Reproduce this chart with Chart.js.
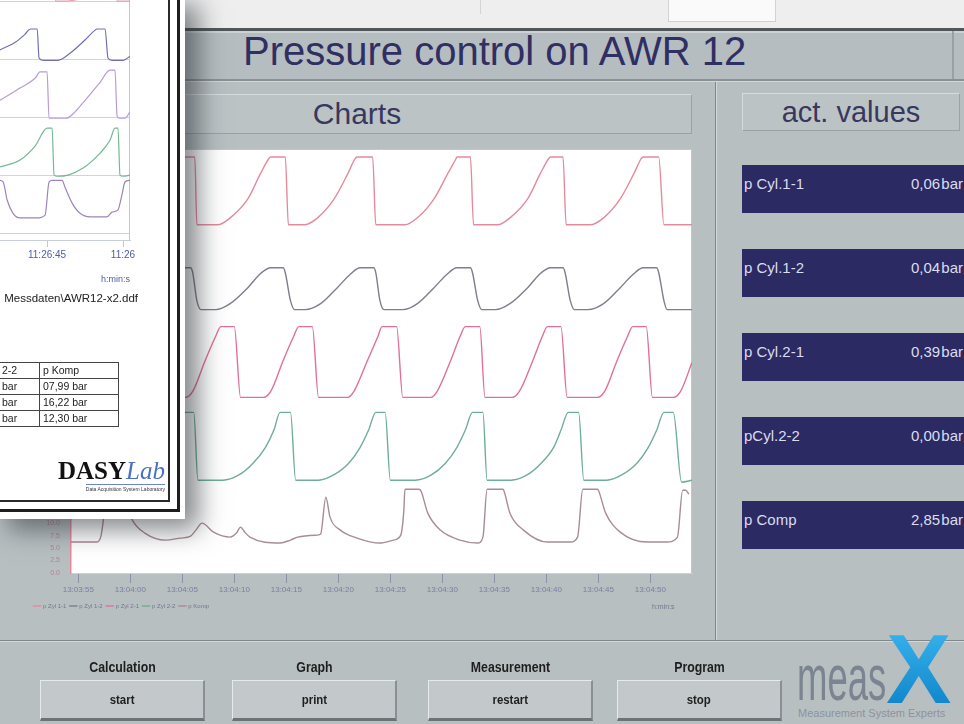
<!DOCTYPE html>
<html lang="en">
<head>
<meta charset="utf-8">
<title>Pressure control on AWR 12</title>
<script src="https://cdn.jsdelivr.net/npm/chart.js@4.4.1/dist/chart.umd.min.js"></script>
<style>
html, body { margin: 0; padding: 0; }
body {
    width: 964px; height: 724px; overflow: hidden; position: relative;
    background: #b8bfc1;
    font-family: 'Liberation Sans', Arial, sans-serif;
}
.abs { position: absolute; }

/* window chrome */
#topStrip { left: 0; top: 0; width: 964px; height: 28px; background: #eeeeee; }
#topStrip .tline { position: absolute; left: 480px; top: 0; width: 1px; height: 14px; background: #d4d4d4; }
#topStrip .tbox { position: absolute; left: 668px; top: -1px; width: 106px; height: 21px; border: 1px solid #d2d2d2; background: #fafafa; }
#topLine { left: 0; top: 28px; width: 964px; height: 3px; background: #50565a; }
#titleBand { left: 0; top: 31px; width: 964px; height: 48px; background: #b6bdc0; border-top: 2px solid #ccd1d3; box-sizing: border-box; }
#titleSep { left: 952px; top: 31px; width: 2px; height: 48px; background: #9aa0a3; }
#title { left: 243px; top: 31px; font-size: 40px; line-height: 40px; color: #2f2f63; white-space: nowrap; }
#bandLine { left: 0; top: 79px; width: 964px; height: 2px; background: #8a9194; }
#bandLine2 { left: 0; top: 81px; width: 964px; height: 1px; background: #d2d7d9; }

.header {
    background: #bcc3c5; border: 1px solid;
    border-color: #d8dcde #9ba1a4 #9ba1a4 #d8dcde;
    box-sizing: border-box; color: #37375f; text-align: center;
}
#chartsHeader { left: 22px; top: 94px; width: 670px; height: 40px; font-size: 30px; line-height: 38px; }
#valuesHeader { left: 742px; top: 93px; width: 218px; height: 38px; font-size: 29px; line-height: 36px; }

#vDivider { left: 715px; top: 82px; width: 1px; height: 558px; background: #80878a; }
#vDivider2 { left: 716px; top: 82px; width: 1px; height: 558px; background: #d3d8da; }
#hDivider { left: 0; top: 640px; width: 964px; height: 1px; background: #80878a; }
#hDivider2 { left: 0; top: 641px; width: 964px; height: 1px; background: #d3d8da; }

/* actual values */
#actValues { left: 742px; top: 165px; width: 222px; }
.act { height: 48px; margin-bottom: 36px; background: #2b2a63; color: #dcdcf0; font-size: 15px; position: relative; }
.act .name { position: absolute; left: 2px; top: 10px; white-space: nowrap; }
.act .val { position: absolute; right: 1px; top: 10px; word-spacing: -3px; white-space: nowrap; }

/* buttons */
.btnLabel {
    top: 658px; width: 165px; text-align: center;
    font: bold 14px 'Liberation Sans', Arial, sans-serif; line-height: 18px; color: #1e1e1e;
    transform: scaleX(0.88);
}
.btn {
    top: 680px; height: 41px; width: 165px; box-sizing: border-box;
    background: #c3c9cb; border-style: solid; border-width: 1px 2px 3px 1px;
    border-color: #e6eaec #899093 #6c7275 #e6eaec;
    text-align: center;
    font: bold 13px 'Liberation Sans', Arial, sans-serif; line-height: 37px; color: #1e1e1e;
}
.btn span { display: inline-block; transform: scaleX(0.88); }

/* logo */
#measText { left: 797px; top: 646px; font: 64px/64px 'Liberation Sans', sans-serif; color: #7b8591; transform: scaleX(0.57); transform-origin: left top; white-space: nowrap; }
#measX { left: 886px; top: 620px; font: bold 98px/98px 'Liberation Sans', Arial, sans-serif; color: #1f9ee0;
    background: linear-gradient(180deg, #3cb8f0, #0b7fc6); -webkit-background-clip: text; background-clip: text; -webkit-text-fill-color: transparent; }
#measTag { left: 798px; top: 707px; font-size: 11px; color: #8a93a0; white-space: nowrap; }

#mainChart { left: 30px; top: 141px; z-index: 5; }
#mainUnit { left: 652px; top: 603px; font-size: 7px; color: #6f7892; z-index: 6; }

/* printout laid over the screen */
#paper { left: 0; top: 0; width: 185px; height: 519px; background: #fff; z-index: 10; overflow: hidden;
    box-shadow: 11px 8px 24px 3px rgba(35, 40, 45, 0.55); }
#miniChart { left: 0; top: 0; }
#ddfPath { right: 47px; top: 292px; font-size: 11.5px; color: #222; white-space: nowrap; }
#resultTable { left: -2px; top: 362px; border-collapse: collapse; font-size: 10.5px; color: #222; }
#resultTable td { border: 1px solid #444; height: 15px; padding: 0 3px; line-height: 15px; white-space: nowrap; }
#resultTable td:first-child { width: 34px; }
#resultTable td:last-child { width: 72px; }
#dasy { right: 20px; top: 458px; font: bold 25px/25px 'Liberation Serif', 'Times New Roman', serif; color: #111; white-space: nowrap; }
#dasy .lab { font-weight: normal; font-style: italic; color: #4a70c8; }
#dasyTag { right: 20px; top: 484px; font-size: 5px; color: #334; border-top: 1px solid #6b86c8; white-space: nowrap; padding-top: 1px; }
#frameInner { left: -2px; top: -2px; width: 172px; height: 504px; border-right: 2px solid #2a2a2a; border-bottom: 2px solid #2a2a2a; box-sizing: border-box; }
#frameOuter { left: -3px; top: -3px; width: 183px; height: 515px; border-right: 3px solid #1e1e1e; border-bottom: 3px solid #1e1e1e; box-sizing: border-box; }
</style>
</head>
<body>

<div id="topStrip" class="abs"><div class="tline"></div><div class="tbox"></div></div>
<div id="topLine" class="abs"></div>
<div id="titleBand" class="abs"></div>
<div id="titleSep" class="abs"></div>
<div id="title" class="abs">Pressure control on AWR 12</div>
<div id="bandLine" class="abs"></div>
<div id="bandLine2" class="abs"></div>

<div id="chartsHeader" class="abs header">Charts</div>
<div id="valuesHeader" class="abs header">act. values</div>
<div id="vDivider" class="abs"></div>
<div id="vDivider2" class="abs"></div>
<div id="hDivider" class="abs"></div>
<div id="hDivider2" class="abs"></div>

<div id="actValues" class="abs"></div>

<div class="abs btnLabel" style="left:40px">Calculation</div>
<div class="abs btn" style="left:40px"><span>start</span></div>
<div class="abs btnLabel" style="left:232px">Graph</div>
<div class="abs btn" style="left:232px"><span>print</span></div>
<div class="abs btnLabel" style="left:428px">Measurement</div>
<div class="abs btn" style="left:428px"><span>restart</span></div>
<div class="abs btnLabel" style="left:617px">Program</div>
<div class="abs btn" style="left:617px"><span>stop</span></div>

<div id="measText" class="abs">meas</div>
<div id="measX" class="abs">X</div>
<div id="measTag" class="abs">Measurement System Experts</div>

<canvas id="mainChart" class="abs" width="670" height="474"></canvas>
<div id="mainUnit" class="abs">h:min:s</div>

<div id="paper" class="abs">
    <canvas id="miniChart" class="abs" width="150" height="285"></canvas>
    <div id="ddfPath" class="abs">Messdaten\AWR12-x2.ddf</div>
    <table id="resultTable" class="abs"></table>
    <div id="dasy" class="abs">DASY<span class="lab">Lab</span></div>
    <div id="dasyTag" class="abs">Data Acquisition System Laboratory</div>
    <div id="frameInner" class="abs"></div>
    <div id="frameOuter" class="abs"></div>
</div>

<script>
// Main chart: x in seconds after 13:03:55, each channel drawn in its own band of one axis
const timeLabels = ['13:03:55', '13:04:00', '13:04:05', '13:04:10', '13:04:15', '13:04:20',
    '13:04:25', '13:04:30', '13:04:35', '13:04:40', '13:04:45', '13:04:50'];
const seriesNames = ['p Zyl 1-1', 'p Zyl 1-2', 'p Zyl 2-1', 'p Zyl 2-2', 'p Komp'];

const pZyl11 = [[-0.7, 75.6], [0, 79.6], [0.6, 83.0], [0.8, 83.4], [2.2, 83.4], [2.4, 69.8],
    [4.6, 69.8], [5.9, 71.2], [7.5, 75.0], [8.8, 80.0], [9.5, 83.0], [9.7, 83.4], [11.2, 83.4], [11.4, 69.8],
    [13.4, 69.8], [14.6, 71.2], [16.3, 75.0], [17.5, 80.0], [18.3, 83.0], [18.5, 83.4], [19.9, 83.4], [20.2, 69.8],
    [21.7, 69.8], [23.0, 71.2], [24.6, 75.0], [25.9, 80.0], [26.6, 83.0], [26.8, 83.4], [28.3, 83.4], [28.6, 69.8],
    [31.4, 69.8], [32.6, 71.2], [34.2, 75.0], [35.5, 80.0], [36.3, 83.0], [36.4, 83.4], [37.7, 83.4], [38.0, 69.8],
    [40.3, 69.8], [41.5, 71.2], [43.2, 75.0], [44.4, 80.0], [45.2, 83.0], [45.4, 83.4], [46.6, 83.4], [46.9, 69.8],
    [49.2, 69.8], [50.5, 71.2], [52.1, 75.0], [53.4, 80.0], [54.1, 83.0], [54.3, 83.4], [55.8, 83.4], [56.3, 69.8],
    [59.0, 69.8]];

const pZyl12 = [[-0.7, 59.4], [-0.4, 60.0], [0.6, 61.2], [1.8, 61.2], [2.0, 60.2], [2.5, 54.6], [2.9, 52.8],
    [4.2, 52.8], [5.7, 54.0], [7.3, 57.2], [8.6, 60.0], [9.5, 61.2], [10.8, 61.2], [11.0, 60.2], [11.4, 54.6], [11.8, 52.8],
    [13.2, 52.8], [14.6, 54.0], [16.3, 57.2], [17.5, 60.0], [18.5, 61.2], [19.7, 61.2], [19.9, 60.2], [20.4, 54.6], [20.8, 52.8],
    [21.8, 52.8], [23.3, 54.0], [24.9, 57.2], [26.2, 60.0], [27.1, 61.2], [28.4, 61.2], [28.6, 60.2], [29.0, 54.6], [29.4, 52.8],
    [31.2, 52.8], [32.6, 54.0], [34.2, 57.2], [35.5, 60.0], [36.4, 61.2], [37.7, 61.2], [37.9, 60.2], [38.4, 54.6], [38.8, 52.8],
    [40.1, 52.8], [41.5, 54.0], [43.2, 57.2], [44.4, 60.0], [45.4, 61.2], [46.6, 61.2], [46.8, 60.2], [47.3, 54.6], [47.7, 52.8],
    [49.0, 52.8], [50.5, 54.0], [52.1, 57.2], [53.4, 60.0], [54.3, 61.2], [55.6, 61.2], [55.8, 60.2], [56.3, 54.6], [56.6, 52.8],
    [59.0, 52.8]];

const pZyl21 = [[-0.7, 42.2], [-0.4, 35.2],
    [2.3, 35.2], [3.0, 36.4], [4.2, 42.6], [5.2, 47.4], [5.7, 49.4], [7.0, 49.4], [7.6, 35.2],
    [10.3, 35.2], [11.0, 36.4], [12.2, 42.6], [13.2, 47.4], [13.7, 49.4], [15.0, 49.4], [15.6, 35.2],
    [17.8, 35.2], [18.5, 36.4], [19.7, 42.6], [20.7, 47.4], [21.2, 49.4], [22.5, 49.4], [23.1, 35.2],
    [25.9, 35.2], [26.5, 36.4], [27.8, 42.6], [28.8, 47.4], [29.2, 49.4], [30.6, 49.4], [31.2, 35.2],
    [33.9, 35.2], [34.5, 36.4], [35.8, 42.6], [36.7, 47.4], [37.2, 49.4], [38.6, 49.4], [39.1, 35.2],
    [41.7, 35.2], [42.4, 36.4], [43.7, 42.6], [44.6, 47.4], [45.1, 49.4], [46.4, 49.4], [47.0, 35.2],
    [49.9, 35.2], [50.6, 36.4], [51.8, 42.6], [52.8, 47.4], [53.3, 49.4], [54.6, 49.4], [55.2, 35.2],
    [57.2, 35.2], [57.9, 36.4], [59.0, 42.2]];

const pZyl22 = [[-0.7, 24.6], [0.3, 28.6], [1.0, 32.2], [1.9, 32.2], [2.4, 18.6],
    [4.6, 18.6], [6.1, 19.6], [7.5, 22.0], [8.7, 25.2], [9.4, 28.6], [10.1, 32.2], [11.1, 32.2], [11.5, 18.6],
    [13.9, 18.6], [15.4, 19.6], [16.8, 22.0], [18.0, 25.2], [18.8, 28.6], [19.4, 32.2], [20.4, 32.2], [20.9, 18.6],
    [23.1, 18.6], [24.5, 19.6], [26.0, 22.0], [27.1, 25.2], [27.9, 28.6], [28.6, 32.2], [29.5, 32.2], [30.0, 18.6],
    [32.4, 18.6], [33.9, 19.6], [35.3, 22.0], [36.4, 25.2], [37.2, 28.6], [37.9, 32.2], [38.9, 32.2], [39.3, 18.6],
    [41.6, 18.6], [43.1, 19.6], [44.5, 22.0], [45.7, 25.2], [46.4, 28.6], [47.1, 32.2], [48.1, 32.2], [48.6, 18.6],
    [50.8, 18.6], [52.2, 19.6], [53.7, 22.0], [54.8, 25.2], [55.6, 28.6], [56.3, 32.2], [57.2, 32.2], [58.0, 18.2],
    [59.0, 18.6]];

const pKomp = [[-0.7, 6.2], [1.8, 6.2], [2.2, 7.6], [2.6, 13.6], [2.9, 16.8], [4.2, 16.8], [4.5, 14.6], [5.2, 10.6],
    [6.4, 8.0], [8.4, 6.6], [9.8, 7.0], [10.8, 7.4], [11.3, 8.6], [11.9, 10.0], [13.0, 8.2], [14.6, 7.2], [15.2, 8.0],
    [15.6, 9.2], [16.0, 8.2], [16.5, 7.2], [19.4, 6.0], [20.4, 6.6], [21.1, 7.2], [23.0, 7.6], [23.3, 7.8], [23.8, 15.2],
    [24.2, 11.2], [25.2, 8.6], [26.8, 7.0], [29.0, 6.0], [30.3, 6.6], [31.0, 7.6], [31.3, 12.6], [31.4, 16.8], [32.7, 16.8],
    [32.9, 16.6], [33.6, 12.0], [34.8, 8.6], [36.7, 6.6], [38.4, 6.0], [38.9, 7.2], [39.3, 16.8], [40.8, 16.8], [40.9, 16.6],
    [41.5, 12.0], [42.8, 8.6], [45.1, 6.2], [47.3, 6.2], [48.0, 7.2], [48.5, 16.8], [49.9, 16.8], [50.0, 16.6], [50.7, 12.0],
    [52.1, 8.2], [54.7, 6.2], [56.6, 6.2], [57.6, 7.2], [58.1, 16.6], [58.4, 16.6], [58.7, 15.8]];

const mainSeries = [pZyl11, pZyl12, pZyl21, pZyl22, pKomp];
const mainColors = ['#e58a9e', '#7e7e8c', '#e0709a', '#6fae96', '#a98b96'];

// Printout chart: x in seconds after 11:26:40
const miniTickLabels = ['11:26:45', '11:26'];
const miniBandLines = [0, 10, 20, 30, 40];
const miniTrace1 = [[1.9, 46], [3.5, 48], [5.5, 48], [5.55, 40], [6.0, 40], [7.3, 40.6], [8.6, 44], [9.2, 48],
    [9.55, 48], [9.6, 40], [10.46, 40]];
const miniTrace2 = [[1.9, 31.6], [2.9, 32.9], [3.55, 34.3], [3.9, 35.2], [4.35, 35.2], [4.47, 30.2], [4.74, 29.8],
    [5.72, 29.8], [6.51, 31.0], [7.5, 33.3], [8.16, 35.0], [8.29, 35.2], [8.82, 35.2], [9.01, 30.2], [9.28, 29.8],
    [10.0, 29.8], [10.46, 30.5]];
const miniTrace3 = [[1.9, 22.9], [3.22, 25.0], [4.21, 26.7], [4.54, 27.8], [5.0, 27.8], [5.13, 19.8], [5.33, 19.8],
    [6.25, 19.8], [6.84, 20.9], [7.5, 22.9], [8.49, 26.0], [9.14, 28.1], [9.47, 28.1], [9.61, 20.2], [9.74, 19.8],
    [10.13, 19.8], [10.46, 20.9]];
const miniTrace4 = [[1.9, 11.4], [3.22, 12.6], [4.21, 15.0], [5.0, 18.1], [5.33, 18.1], [5.46, 10.0], [5.66, 9.8],
    [6.38, 10.0], [7.37, 11.2], [8.49, 13.8], [9.14, 16.0], [9.47, 18.1], [9.67, 18.1], [9.8, 10.0], [10.0, 9.8],
    [10.46, 10.0]];
const miniTrace5 = [[1.9, 9.1], [2.11, 8.8], [2.37, 5.7], [2.76, 3.4], [3.22, 2.6], [4.34, 2.6], [4.87, 3.1],
    [5.13, 8.8], [5.33, 9.1], [5.99, 9.1], [6.18, 7.9], [6.64, 5.2], [7.17, 3.4], [7.83, 2.8], [8.95, 2.8],
    [9.28, 3.6], [9.67, 4.0], [9.93, 6.6], [10.13, 8.8], [10.46, 9.1]];
const miniSeries = [miniTrace1, miniTrace2, miniTrace3, miniTrace4, miniTrace5];
const miniColors = ['#e8a0b0', '#6f6fb0', '#b79ad8', '#74b893', '#9c84bc'];

// Side panel and printout table
const actLabels = ['p Cyl.1-1', 'p Cyl.1-2', 'p Cyl.2-1', 'pCyl.2-2', 'p Comp'];
const actValues = ['0,06 bar', '0,04 bar', '0,39 bar', '0,00 bar', '2,85 bar'];
const tableRows = [['2-2', 'p Komp'], ['bar', '07,99 bar'], ['bar', '16,22 bar'], ['bar', '12,30 bar']];

function toPoints(pairs) {
    return pairs.map(([x, y]) => ({ x: x, y: y }));
}

// white plot area plus the thin frame lines
const plotFrame = {
    id: 'plotFrame',
    beforeDraw(chart, args, opts) {
        if (!opts.fill) return;
        const { ctx, chartArea: a } = chart;
        ctx.save();
        ctx.fillStyle = opts.fill;
        ctx.fillRect(a.left, a.top, a.width, a.height);
        ctx.restore();
    },
    beforeDatasetsDraw(chart, args, opts) {
        const { ctx, chartArea: a } = chart;
        const sides = opts.sides || '';
        ctx.save();
        ctx.strokeStyle = opts.color;
        ctx.lineWidth = 1;
        ctx.beginPath();
        if (sides.includes('t')) { ctx.moveTo(a.left, a.top + 0.5); ctx.lineTo(a.right, a.top + 0.5); }
        if (sides.includes('r')) { ctx.moveTo(a.right - 0.5, a.top); ctx.lineTo(a.right - 0.5, a.bottom); }
        ctx.stroke();
        ctx.restore();
    }
};

const actBox = document.getElementById('actValues');
actLabels.forEach((name, i) => {
    const row = document.createElement('div');
    row.className = 'act';
    row.innerHTML = `<span class="name">${name}</span><span class="val">${actValues[i]}</span>`;
    actBox.appendChild(row);
});

const table = document.getElementById('resultTable');
tableRows.forEach(cells => {
    const tr = document.createElement('tr');
    cells.forEach(text => {
        const td = document.createElement('td');
        td.textContent = text;
        tr.appendChild(td);
    });
    table.appendChild(tr);
});

new Chart(document.getElementById('mainChart'), {
    type: 'line',
    data: {
        datasets: mainSeries.map((series, i) => ({
            label: seriesNames[i],
            data: toPoints(series),
            borderColor: mainColors[i],
            backgroundColor: mainColors[i],
            borderWidth: 1.4,
            pointRadius: 0,
            cubicInterpolationMode: 'monotone',
            fill: false
        }))
    },
    options: {
        responsive: false,
        animation: false,
        events: [],
        layout: { padding: { top: 8, right: 8, left: 0, bottom: 0 } },
        scales: {
            x: {
                type: 'linear',
                min: -0.7,
                max: 59,
                afterFit: (scale) => { scale.height = 26; },
                ticks: {
                    stepSize: 5,
                    maxTicksLimit: 20,
                    includeBounds: false,
                    autoSkip: false,
                    maxRotation: 0,
                    padding: 2,
                    color: '#7880a0',
                    font: { size: 8 },
                    callback: (value) => timeLabels[Math.round(value / 5)]
                },
                grid: { drawOnChartArea: false, tickLength: 10, color: '#8c92a8' },
                border: { color: '#d9cdd2' }
            },
            y: {
                min: 0,
                max: 85,
                afterFit: (scale) => { scale.width = 41; },
                ticks: {
                    stepSize: 2.5,
                    maxTicksLimit: 40,
                    autoSkip: false,
                    padding: 3,
                    color: '#b97f93',
                    font: { size: 7 },
                    callback: (value) => value.toFixed(1)
                },
                grid: { display: false },
                border: { display: true, color: '#e58a9e', width: 1.5 }
            }
        },
        plugins: {
            legend: {
                position: 'bottom',
                align: 'start',
                maxHeight: 16,
                labels: {
                    usePointStyle: true,
                    pointStyle: 'line',
                    boxWidth: 10,
                    padding: 4,
                    color: '#6f7892',
                    font: { size: 6 }
                }
            },
            tooltip: { enabled: false },
            plotFrame: { fill: '#ffffff', color: '#e9b3bf', sides: 'tr' }
        }
    },
    plugins: [plotFrame]
});

new Chart(document.getElementById('miniChart'), {
    type: 'line',
    data: {
        datasets: miniSeries.map((series, i) => ({
            data: toPoints(series),
            borderColor: miniColors[i],
            borderWidth: 1.2,
            pointRadius: 0,
            cubicInterpolationMode: 'monotone',
            fill: false
        }))
    },
    options: {
        responsive: false,
        animation: false,
        events: [],
        layout: { padding: { top: 0, right: 20, left: 0, bottom: 0 } },
        scales: {
            x: {
                type: 'linear',
                min: 1.9,
                max: 10.46,
                afterFit: (scale) => { scale.height = 45; },
                ticks: {
                    stepSize: 5,
                    includeBounds: false,
                    autoSkip: false,
                    maxRotation: 0,
                    padding: 2,
                    color: '#4a5bb0',
                    font: { size: 10 },
                    callback: (value) => miniTickLabels[Math.round(value / 5) - 1]
                },
                grid: { drawOnChartArea: false, tickLength: 7, color: '#c3c8d6' },
                border: { color: '#c9cedb' },
                title: {
                    display: true,
                    text: 'h:min:s',
                    align: 'end',
                    color: '#4a5bb0',
                    font: { size: 9 },
                    padding: { top: 0, bottom: 0 }
                }
            },
            y: {
                min: -1.2,
                max: 40.2,
                afterFit: (scale) => { scale.width = 0; },
                afterBuildTicks: (scale) => { scale.ticks = miniBandLines.map(v => ({ value: v })); },
                ticks: { display: false },
                grid: { color: '#cdd3e2', drawTicks: false },
                border: { display: false }
            }
        },
        plugins: {
            legend: { display: false },
            tooltip: { enabled: false },
            plotFrame: { color: '#eab5bf', sides: 'r' }
        }
    },
    plugins: [plotFrame]
});
</script>
</body>
</html>
